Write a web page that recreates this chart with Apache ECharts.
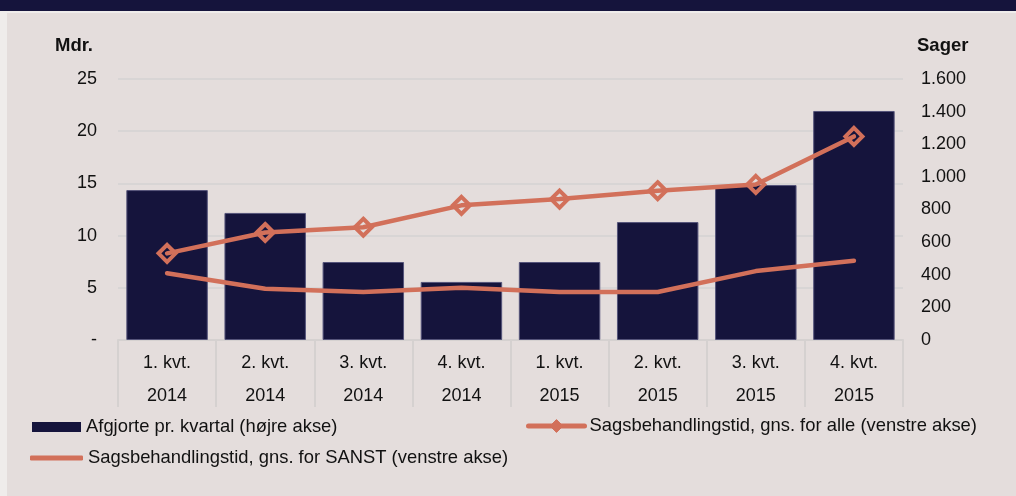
<!DOCTYPE html>
<html>
<head>
<meta charset="utf-8">
<script src="https://cdn.jsdelivr.net/npm/echarts@6/dist/echarts.min.js"></script>
<style>
  html, body { margin: 0; padding: 0; background: #efeceb; }
  #chart { width: 1016px; height: 496px; }
</style>
</head>
<body>
<div id="chart"></div>
<script>
// data
const categories = ['1. kvt.\n2014', '2. kvt.\n2014', '3. kvt.\n2014', '4. kvt.\n2014',
                    '1. kvt.\n2015', '2. kvt.\n2015', '3. kvt.\n2015', '4. kvt.\n2015'];
const afgjorte = [919, 779, 478, 356, 478, 723, 950, 1404];   // højre akse
const alle = [8.3, 10.3, 10.8, 12.9, 13.5, 14.3, 14.9, 19.5];  // venstre akse
const sanst = [6.4, 4.9, 4.6, 5.0, 4.6, 4.6, 6.6, 7.6];        // venstre akse

const navy = '#15143c';
const orange = '#d2705a';
const font = 'Liberation Sans, Arial, sans-serif';
const legendText = { fontSize: 18.4, color: '#111', fontFamily: font };

const myChart = echarts.init(document.getElementById('chart'));

let option = {
  backgroundColor: 'transparent',
  textStyle: { fontFamily: font },
  graphic: [
    { type: 'rect', shape: { x: 7, y: 13, width: 1009, height: 483 }, style: { fill: '#e4dddc' }, z: -10 },
    { type: 'rect', shape: { x: 0, y: 0, width: 1016, height: 11 }, style: { fill: navy }, z: -10 }
  ],
  grid: { left: 118, right: 113, top: 79, bottom: 156 },
  legend: [
    {
      left: 32, top: 418, padding: 0,
      itemWidth: 49, itemHeight: 10,
      textStyle: legendText,
      itemStyle: { borderWidth: 0 },
      data: [{ name: 'Afgjorte pr. kvartal (højre akse)', icon: 'rect' }]
    },
    {
      left: 526, top: 417, padding: 0,
      itemWidth: 56, itemHeight: 16,
      textStyle: legendText,
      lineStyle: { width: 5 },
      data: [{ name: 'Sagsbehandlingstid, gns. for alle (venstre akse)', itemStyle: { color: orange, borderColor: orange, borderWidth: 1 } }]
    },
    {
      left: 30, top: 449, padding: 0,
      itemWidth: 53, itemHeight: 5,
      textStyle: legendText,
      data: [{ name: 'Sagsbehandlingstid, gns. for SANST (venstre akse)', icon: 'roundRect', itemStyle: { color: orange, borderWidth: 0 } }]
    }
  ],
  xAxis: {
    type: 'category',
    data: categories,
    axisLine: { lineStyle: { color: '#d5d1d0', width: 2 } },
    axisTick: { show: true, length: 67, interval: 0, lineStyle: { color: '#d5d1d0', width: 2 } },
    axisLabel: { fontSize: 18, color: '#111', lineHeight: 33, margin: 7, interval: 0 }
  },
  yAxis: [
    {
      type: 'value',
      min: 0, max: 25, interval: 5,
      name: 'Mdr.',
      nameLocation: 'end',
      nameGap: 24,
      nameTextStyle: { fontSize: 18.5, fontWeight: 'bold', color: '#111', align: 'right', padding: [0, 25, 0, 0] },
      axisLine: { show: false },
      axisTick: { show: false },
      axisLabel: {
        fontSize: 18, color: '#111', margin: 21,
        formatter: v => v === 0 ? '-' : String(v)
      },
      splitLine: { lineStyle: { color: '#d8d5d5', width: 2 } }
    },
    {
      type: 'value',
      min: 0, max: 1600, interval: 200,
      name: 'Sager',
      nameLocation: 'end',
      nameGap: 24,
      nameTextStyle: { fontSize: 18.5, fontWeight: 'bold', color: '#111', align: 'left', padding: [0, 0, 0, 14] },
      axisLine: { show: false },
      axisTick: { show: false },
      axisLabel: {
        fontSize: 18, color: '#111', margin: 18,
        formatter: v => v.toString().replace(/\B(?=(\d{3})+(?!\d))/g, '.')
      },
      splitLine: { show: false }
    }
  ],
  series: [
    {
      name: 'Afgjorte pr. kvartal (højre akse)',
      type: 'bar',
      yAxisIndex: 1,
      data: afgjorte,
      barCategoryGap: '17%',
      itemStyle: { color: navy, borderColor: '#55547a', borderWidth: 1 }
    },
    {
      name: 'Sagsbehandlingstid, gns. for alle (venstre akse)',
      type: 'line',
      yAxisIndex: 0,
      data: alle,
      symbol: 'diamond',
      symbolSize: 17,
      showAllSymbol: true,
      lineStyle: { color: orange, width: 4.5, cap: 'round' },
      itemStyle: { color: 'rgba(0,0,0,0)', borderColor: orange, borderWidth: 4 },
      z: 3
    },
    {
      name: 'Sagsbehandlingstid, gns. for SANST (venstre akse)',
      type: 'line',
      yAxisIndex: 0,
      data: sanst,
      symbol: 'none',
      lineStyle: { color: orange, width: 4.5, cap: 'round' },
      itemStyle: { color: orange },
      z: 3
    }
  ]
};
myChart.setOption(option);
</script>
</body>
</html>
